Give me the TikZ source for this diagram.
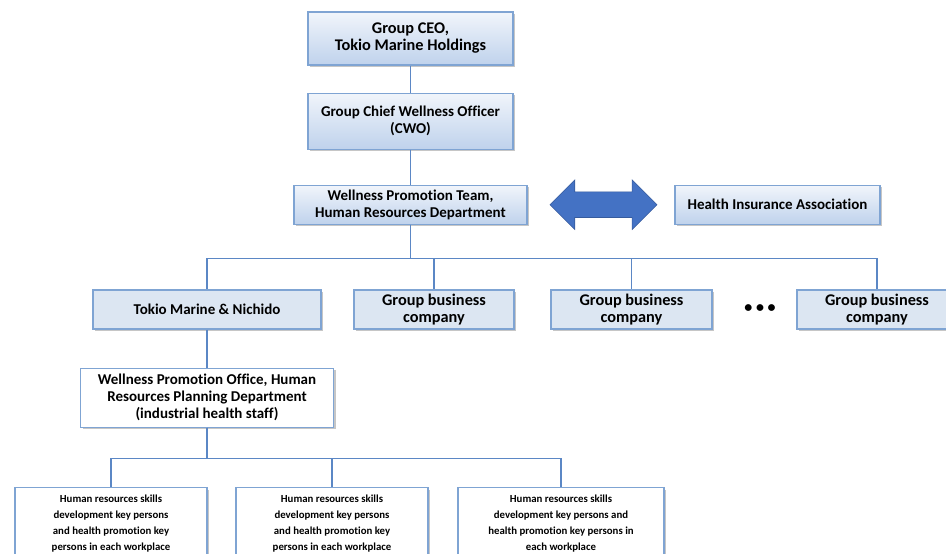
\documentclass[tikz,border=0pt]{standalone}
\usepackage{fontspec}
\setmainfont{Carlito}[Ligatures={NoCommon}]
\usetikzlibrary{shapes.arrows, shadows, positioning}

\definecolor{boxline}{HTML}{7FA4D3}
\definecolor{conn}{HTML}{5B87C5}
\definecolor{fillflat}{HTML}{DCE6F2}
\definecolor{gradtop}{HTML}{F1F5FB}
\definecolor{gradbot}{HTML}{BFD2EC}
\definecolor{arrowfill}{HTML}{4472C4}

\begin{document}
\begin{tikzpicture}[x=1pt, y=-1pt,
    box/.style={draw=boxline, line width=1.1pt, align=center, inner sep=2pt,
                font=\bfseries\fontsize{15}{17}\selectfont,
                drop shadow={shadow xshift=2pt, shadow yshift=-2pt, opacity=0.45, fill=gray}},
    bigtext/.style={font=\bfseries\fontsize{16.3}{17}\selectfont},
    gradbox/.style={box, top color=gradtop, bottom color=gradbot},
    flatbox/.style={box, fill=fillflat},
    plainbox/.style={box, fill=white},
    smallbox/.style={plainbox, font=\bfseries\fontsize{10.8}{16}\selectfont,
                minimum width=192pt, minimum height=72pt, anchor=north},
    link/.style={draw=conn, line width=1.1pt},
    node distance=27pt and 21pt
  ]
    \useasboundingbox (0,0) rectangle (946,554);

    \node[gradbox, bigtext, minimum width=205pt, minimum height=53pt] (ceo) at (410.5,38.5)
        {Group CEO,\\Tokio Marine Holdings};
    \node[gradbox, minimum width=205pt, minimum height=56pt, below=of ceo] (cwo)
        {Group Chief Wellness Officer\\(CWO)};
    \node[gradbox, minimum width=233pt, minimum height=39pt, below=35pt of cwo] (team)
        {Wellness Promotion Team,\\Human Resources Department};
    \node[double arrow, fill=arrowfill, draw=arrowfill!80!black, line width=0.6pt,
          minimum height=107pt, inner xsep=0pt, inner ysep=12.5pt,
          double arrow head extend=12pt, right=22pt of team] (xchg) {};
    \node[gradbox, minimum width=205pt, minimum height=39pt, right=17pt of xchg] (hia)
        {Health Insurance Association};

    \node[flatbox, minimum width=228pt, minimum height=39pt] (tmn) at (207,309.5)
        {Tokio Marine \& Nichido};
    \node[flatbox, bigtext, minimum width=160pt, minimum height=39pt] (gbca) at (434,309.5)
        {Group business\\company};
    \node[flatbox, bigtext, minimum width=161pt, minimum height=39pt] (gbcb) at (631.5,309.5)
        {Group business\\company};
    \node[font=\bfseries\fontsize{16}{16}\selectfont] (dots) at (760,309) {• • •};
    \node[flatbox, bigtext, minimum width=160pt, minimum height=39pt] (gbcc) at (877,309.5)
        {Group business\\company};

    \node[plainbox, minimum width=253pt, minimum height=59pt, below=38pt of tmn] (wpo)
        {Wellness Promotion Office, Human\\Resources Planning Department\\(industrial health staff)};

    \node[smallbox] (kpa) at (111,487)
        {Human resources skills\\development key persons\\and health promotion key\\persons in each workplace};
    \node[smallbox] (kpb) at (332,487)
        {Human resources skills\\development key persons\\and health promotion key\\persons in each workplace};
    \node[smallbox, minimum width=206pt] (kpc) at (561,487)
        {Human resources skills\\development key persons and\\health promotion key persons in\\each workplace};

    % connectors
    \draw[link] (ceo) -- (cwo);
    \draw[link] (cwo) -- (team);
    \foreach \c in {tmn, gbca, gbcb, gbcc}
        \draw[link] (team.south) -- ++(0,34) -| (\c.north);
    \draw[link] (tmn) -- (wpo);
    \foreach \c in {kpa, kpb, kpc}
        \draw[link] (wpo.south) -- ++(0,31) -| (\c.north);
\end{tikzpicture}
\end{document}
